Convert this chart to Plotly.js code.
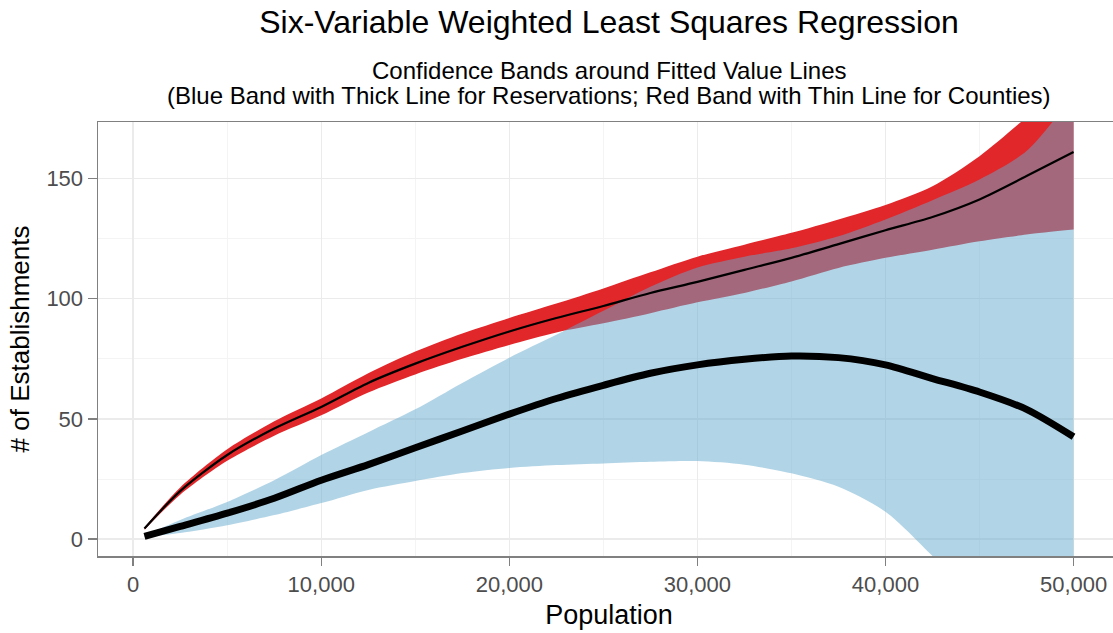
<!DOCTYPE html>
<html>
<head>
<meta charset="utf-8">
<script src="https://cdn.plot.ly/plotly-3.0.1.min.js"></script>
<style>
  html, body { margin: 0; padding: 0; overflow: hidden; background: #ffffff; }
  #chart { width: 1125px; height: 633px; }
</style>
</head>
<body>
<div id="chart"></div>
<script>
// ---- data ----
const population = [600, 2500, 5000, 7500, 10000, 12500, 15000, 17500, 20000, 22500, 25000, 27500, 30000, 32500, 35000, 37500, 40000, 42500, 45000, 47500, 50000];

// Counties: fitted values (thin line) and confidence band (red)
const countyFit   = [4.4, 20, 35, 46, 55, 65, 73, 80, 86.4, 92, 97, 102.4, 107, 112, 117, 122.7, 128.5, 134, 141.3, 151, 161];
const countyUpper = [4.9, 21.5, 37.4, 49, 58.5, 69, 78, 85.5, 92, 98, 104.3, 111, 117.5, 122.5, 127.4, 133, 139, 146.8, 159.3, 175.5, 193.5];
const countyLower = [3.9, 18.5, 32.6, 43, 51.5, 61, 68.5, 75, 80.8, 86, 89.8, 94, 98.5, 102.4, 107.2, 112.8, 117, 120.4, 123.9, 126.7, 128.75];

// Reservations: fitted values (thick line) and confidence band (blue)
const reservFit   = [1.2, 5.3, 10.8, 17, 24.5, 31, 38, 45, 52, 58.5, 64, 69, 72.5, 74.8, 76.2, 75.5, 72.5, 66.8, 61.2, 54, 42.6];
const reservUpper = [1.4, 8, 15.5, 24.5, 35, 44.5, 54, 65, 75.5, 85, 95, 105, 113, 117.5, 121, 126, 133, 141, 149.6, 161.4, 185];
const reservLower = [1.0, 2.6, 5.8, 10, 15, 20.5, 24.2, 27.5, 29.6, 30.8, 31.5, 32.2, 32.5, 31, 27.4, 21.8, 11.4, -7, -27, -52, -100];

const xTicks = [0, 10000, 20000, 30000, 40000, 50000];
const xTickText = ['0', '10,000', '20,000', '30,000', '40,000', '50,000'];
const yTicks = [0, 50, 100, 150];
const yTickText = ['0', '50', '100', '150'];

const titleText = 'Six-Variable Weighted Least Squares Regression';
const subtitleLine1 = 'Confidence Bands around Fitted Value Lines';
const subtitleLine2 = '(Blue Band with Thick Line for Reservations; Red Band with Thin Line for Counties)';

// ---- traces ----
const shape = { shape: 'spline', smoothing: 0.8 };
const traces = [
  { x: population, y: countyLower, mode: 'lines', line: Object.assign({ width: 0, color: 'rgba(0,0,0,0)' }, shape), hoverinfo: 'skip', showlegend: false },
  { x: population, y: countyUpper, mode: 'lines', fill: 'tonexty', fillcolor: '#E2272B', line: Object.assign({ width: 0, color: 'rgba(0,0,0,0)' }, shape), hoverinfo: 'skip', showlegend: false },
  { x: population, y: reservLower, mode: 'lines', line: Object.assign({ width: 0, color: 'rgba(0,0,0,0)' }, shape), hoverinfo: 'skip', showlegend: false },
  { x: population, y: reservUpper, mode: 'lines', fill: 'tonexty', fillcolor: 'rgba(100,170,205,0.5)', line: Object.assign({ width: 0, color: 'rgba(0,0,0,0)' }, shape), hoverinfo: 'skip', showlegend: false },
  { x: population, y: countyFit, mode: 'lines', name: 'Counties', line: Object.assign({ width: 2.2, color: '#000000' }, shape), showlegend: false },
  { x: population, y: reservFit, mode: 'lines', name: 'Reservations', line: Object.assign({ width: 7, color: '#000000' }, shape), showlegend: false }
];

const layout = {
  width: 1125,
  height: 633,
  paper_bgcolor: '#ffffff',
  plot_bgcolor: '#ffffff',
  margin: { l: 98, r: 5, t: 122, b: 77 },
  font: { family: 'Liberation Sans, Arial, sans-serif', color: '#000000' },
  showlegend: false,
  title: {
    text: titleText,
    font: { size: 32, color: '#000000' },
    x: 0.5, xref: 'paper', xanchor: 'center',
    y: 1 - 22 / 633, yref: 'container', yanchor: 'middle'
  },
  annotations: [
    { text: subtitleLine1, xref: 'paper', x: 0.5, yref: 'paper', y: 1 + (122 - 70) / 434, xanchor: 'center', yanchor: 'middle', showarrow: false, font: { size: 24, color: '#000000' } },
    { text: subtitleLine2, xref: 'paper', x: 0.5, yref: 'paper', y: 1 + (122 - 95) / 434, xanchor: 'center', yanchor: 'middle', showarrow: false, font: { size: 24, color: '#000000' } }
  ],
  xaxis: {
    range: [-1870, 52470],
    tickmode: 'array', tickvals: xTicks, ticktext: xTickText,
    ticks: 'outside', ticklen: 8, tickwidth: 1.5, tickcolor: '#808080',
    tickfont: { size: 22, color: '#4D4D4D' },
    showgrid: true, gridcolor: '#EBEBEB', gridwidth: 1.5,
    minor: { dtick: 5000, tick0: 0, showgrid: true, gridcolor: '#F4F4F4', gridwidth: 1, ticks: '' },
    showline: true, linecolor: '#808080', linewidth: 1.5, mirror: true,
    zeroline: false,
    title: { text: 'Population', font: { size: 27, color: '#000000' }, standoff: 9 },
    automargin: false
  },
  yaxis: {
    range: [-7, 173.5],
    tickmode: 'array', tickvals: yTicks, ticktext: yTickText,
    ticks: 'outside', ticklen: 9, tickwidth: 1.5, tickcolor: '#808080',
    tickfont: { size: 22, color: '#4D4D4D' },
    showgrid: true, gridcolor: '#EBEBEB', gridwidth: 1.5,
    minor: { dtick: 25, tick0: 0, showgrid: true, gridcolor: '#F4F4F4', gridwidth: 1, ticks: '' },
    showline: true, linecolor: '#808080', linewidth: 1.5, mirror: true,
    zeroline: false,
    title: { text: '# of Establishments', font: { size: 26, color: '#000000' }, standoff: 9 },
    automargin: false
  }
};

Plotly.newPlot('chart', traces, layout, { staticPlot: true, displayModeBar: false });
</script>
</body>
</html>
